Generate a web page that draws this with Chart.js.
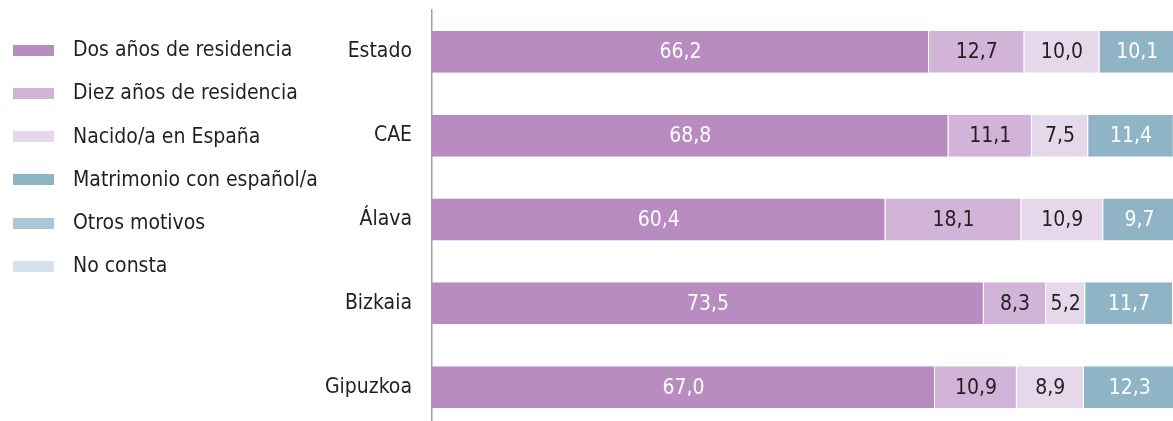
<!DOCTYPE html>
<html lang="es">
<head>
    <meta charset="UTF-8">
    <title>Motivo de adquisición de la nacionalidad</title>
    <script src="https://cdn.jsdelivr.net/npm/chart.js@4.4.1/dist/chart.umd.min.js"></script>
    <style>
        body { margin: 0; overflow: hidden; background: #fff; width: 1173px; height: 421px; }
        #chart { position: absolute; left: 0; top: 0; }
        #legend { position: absolute; left: 13px; top: 28px; font-family: 'DejaVu Sans Condensed', 'DejaVu Sans', sans-serif; font-size: 21px; color: #231f20; z-index: 2; }
        .item { position: relative; height: 43.3px; line-height: 43.3px; padding-left: 60px; white-space: nowrap; }
        .swatch { position: absolute; left: 0; top: 16.5px; width: 41px; height: 11px; }
    </style>
</head>
<body>
    <div id="legend"></div>
    <canvas id="chart" width="1173" height="430"></canvas>

    <script>
        const FONT = "'DejaVu Sans Condensed', 'DejaVu Sans', sans-serif";

        // data
        const categories = ['Estado', 'CAE', 'Álava', 'Bizkaia', 'Gipuzkoa'];
        const dosAnos    = [66.2, 68.8, 60.4, 73.5, 67.0];
        const diezAnos   = [12.7, 11.1, 18.1, 8.3, 10.9];
        const nacido     = [10.0, 7.5, 10.9, 5.2, 8.9];
        const matrimonio = [10.1, 11.4, 9.7, 11.7, 12.3];
        // last two are cut off at the right edge of the picture, rough guesses
        const otros      = [0.8, 1.0, 0.7, 1.1, 0.7];
        const noConsta   = [0.2, 0.2, 0.2, 0.2, 0.2];

        const seriesNames = ['Dos años de residencia', 'Diez años de residencia', 'Nacido/a en España',
                             'Matrimonio con español/a', 'Otros motivos', 'No consta'];
        const seriesData = [dosAnos, diezAnos, nacido, matrimonio, otros, noConsta];
        const colors = ['#b98cc1', '#d1b4d7', '#e6d8eb', '#8fb4c6', '#abc7d4', '#d8e2ea'];
        const labelColors = ['#ffffff', '#231f20', '#231f20', '#ffffff', null, null];

        // legend on the left
        const legend = document.getElementById('legend');
        seriesNames.forEach((name, i) => {
            const row = document.createElement('div');
            row.className = 'item';
            row.innerHTML = '<span class="swatch" style="background:' + colors[i] + '"></span>' + name;
            legend.appendChild(row);
        });

        // values written inside the segments
        const valueLabels = {
            id: 'valueLabels',
            afterDatasetsDraw(chart) {
                const ctx = chart.ctx;
                ctx.save();
                ctx.font = '21px ' + FONT;
                ctx.textAlign = 'center';
                ctx.textBaseline = 'middle';
                chart.data.datasets.forEach((ds, di) => {
                    if (!ds.labelColor) return;
                    chart.getDatasetMeta(di).data.forEach((bar, i) => {
                        const p = bar.getProps(['x', 'y', 'base'], true);
                        ctx.fillStyle = ds.labelColor;
                        ctx.fillText(ds.data[i].toFixed(1).replace('.', ','), (p.x + p.base) / 2, p.y + 1);
                    });
                });
                ctx.restore();
            }
        };

        new Chart(document.getElementById('chart'), {
            type: 'bar',
            data: {
                labels: categories,
                datasets: seriesData.map((d, i) => ({
                    label: seriesNames[i],
                    data: d,
                    backgroundColor: colors[i],
                    borderColor: '#ffffff',
                    borderWidth: { right: 1 },
                    borderSkipped: false,
                    labelColor: labelColors[i],
                    categoryPercentage: 1,
                    barPercentage: 0.5
                }))
            },
            options: {
                indexAxis: 'y',
                responsive: false,
                animation: false,
                layout: { padding: { top: 10, bottom: 1, left: 0, right: 0 } },
                scales: {
                    x: { stacked: true, display: false, min: 0, max: 98.7 },
                    y: {
                        stacked: true,
                        grid: { display: false, drawTicks: false },
                        border: { display: true, color: '#a0a0a0', width: 1.5 },
                        ticks: { color: '#231f20', padding: 20, font: { family: FONT, size: 21 } },
                        afterFit(scale) {
                            scale.width = 432;
                            scale.paddingTop = 0;
                            scale.paddingBottom = 0;
                        }
                    }
                },
                plugins: {
                    legend: { display: false },
                    tooltip: { enabled: false }
                }
            },
            plugins: [valueLabels]
        });
    </script>
</body>
</html>
